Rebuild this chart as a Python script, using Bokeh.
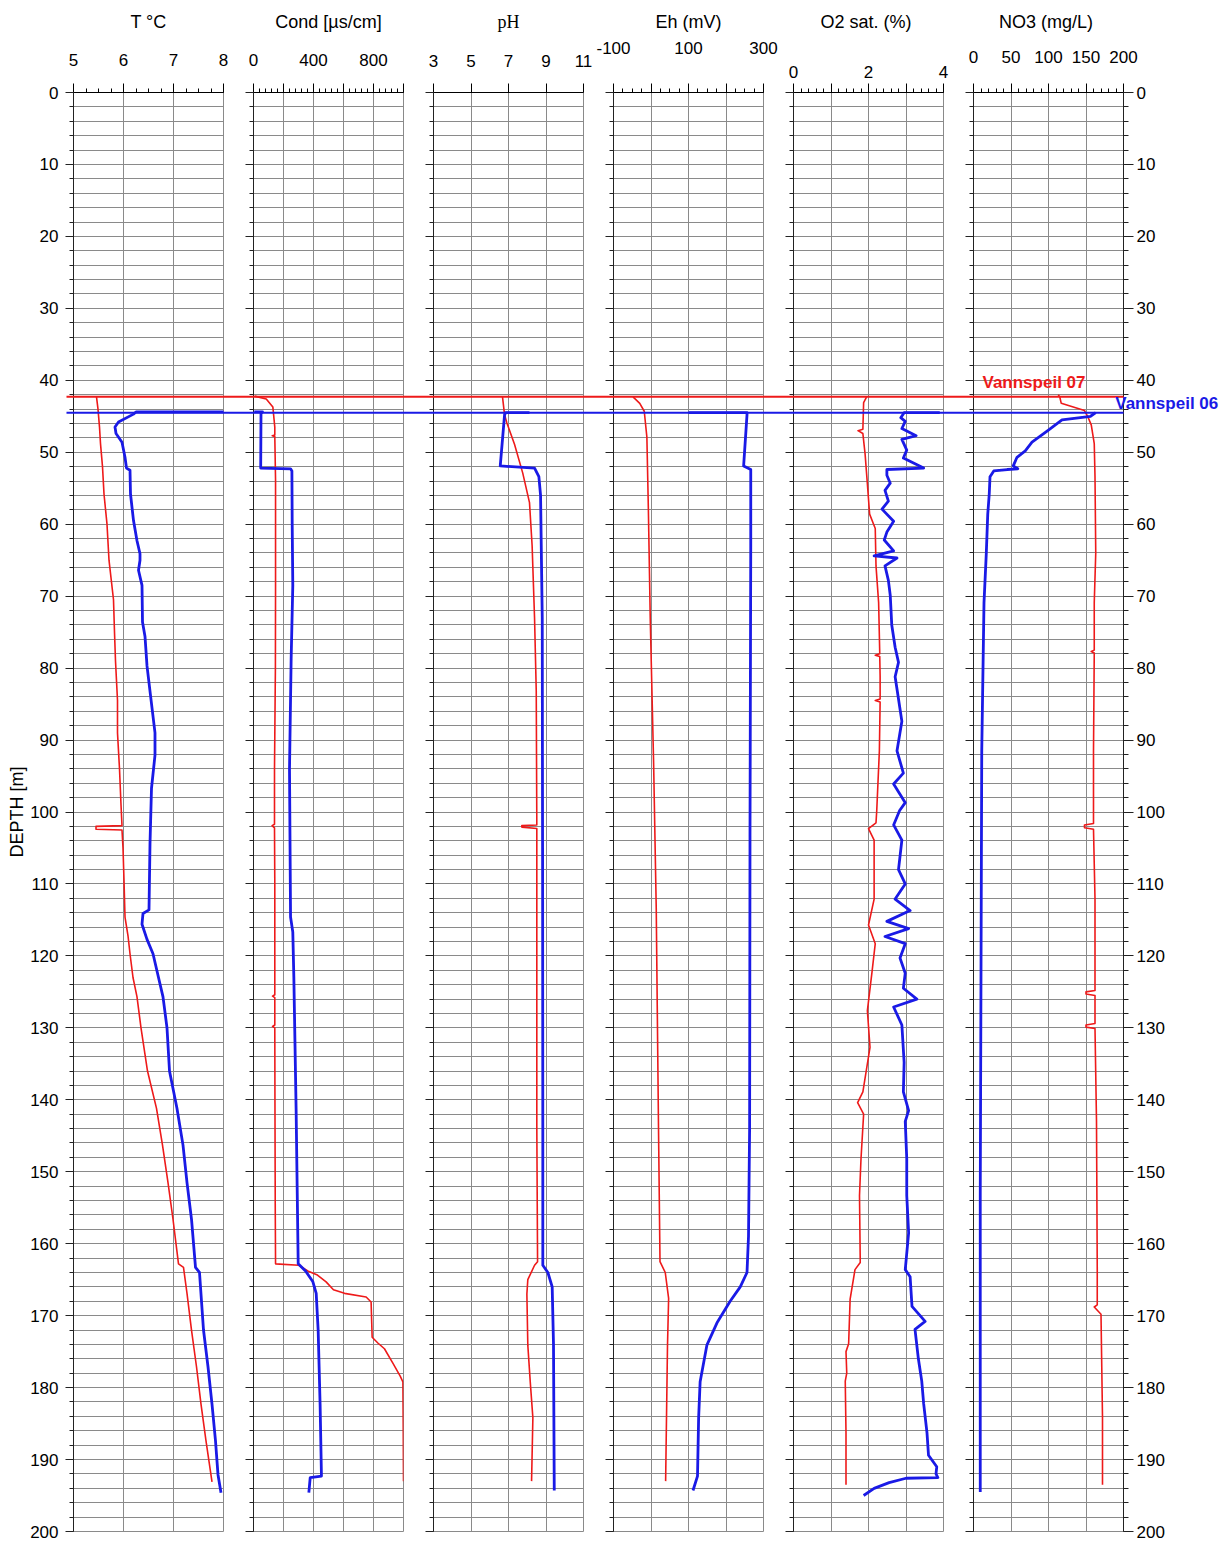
import numpy as np
from bokeh.plotting import figure
from bokeh.layouts import row
from bokeh.models import Range1d, LinearAxis, FixedTicker, SingleIntervalTicker
from bokeh.core.properties import value
from bokeh.embed import file_html
from bokeh.resources import INLINE

# ---------------- data (depth in m) ----------------
WATER_07 = 42.3   # Vannspeil 07
WATER_06 = 44.5   # Vannspeil 06

t07_depth = [42.3, 44.0, 46.5, 48.8, 52.0, 55.8, 60.0, 65.0, 70.5, 75.0, 79.0, 84.5, 89.0, 94.0, 99.0,
             101.9, 102.0, 102.4, 102.5, 105.0, 109.5, 114.6, 117.2, 119.7, 123.0, 125.7, 130.0, 136.0,
             141.2, 146.3, 151.5, 156.6, 162.8, 163.3, 166.9, 172.0, 177.1, 182.3, 187.4, 193.1]
t07 = [5.46, 5.49, 5.52, 5.54, 5.58, 5.61, 5.67, 5.71, 5.80, 5.82, 5.84, 5.88, 5.88, 5.92, 5.95,
       5.97, 5.45, 5.45, 5.97, 5.99, 6.01, 6.03, 6.09, 6.13, 6.19, 6.27, 6.35, 6.48,
       6.66, 6.78, 6.89, 6.99, 7.10, 7.20, 7.27, 7.36, 7.46, 7.55, 7.65, 7.77]
t06_depth = [44.4, 44.4, 44.7, 45.8, 46.5, 47.4, 48.6, 50.7, 52.2, 52.5, 55.8, 59.5, 62.3, 64.1, 65.0,
             66.4, 68.5, 73.6, 75.6, 79.7, 83.8, 89.0, 92.1, 96.7, 104.4, 113.6, 114.1, 115.6, 117.7,
             119.7, 123.0, 125.7, 130.0, 136.0, 141.2, 146.3, 151.5, 156.6, 163.3, 164.0, 172.0, 177.1,
             182.3, 187.4, 192.1, 194.6]
t06 = [8.15, 6.25, 6.20, 5.90, 5.83, 5.85, 5.97, 6.03, 6.06, 6.13, 6.14, 6.20, 6.27, 6.33, 6.33,
       6.30, 6.37, 6.38, 6.43, 6.47, 6.54, 6.63, 6.63, 6.56, 6.53, 6.51, 6.39, 6.37, 6.47,
       6.59, 6.70, 6.79, 6.87, 6.92, 7.07, 7.19, 7.27, 7.36, 7.44, 7.52, 7.60, 7.69,
       7.77, 7.84, 7.89, 7.95]

c07_depth = [42.2, 42.6, 43.7, 46.5, 47.6, 47.7, 47.8, 53.9, 68.5, 80.0, 94.0, 101.7, 101.9, 102.2, 110.0,
             125.4, 125.6, 125.8, 129.6, 129.8, 130.0, 140.0, 155.0, 162.8, 163.0, 163.8, 164.3, 165.3,
             166.4, 166.9, 167.4, 168.1, 173.0, 173.8, 174.6, 176.6, 178.4, 179.2, 185.0, 193.0]
c07 = [7, 85, 129, 142, 142, 125, 142, 147, 147, 146, 140, 140, 124, 140, 142,
       142, 127, 142, 142, 127, 142, 143, 145, 147, 302, 362, 422, 484,
       533, 607, 751, 784, 791, 829, 873, 929, 978, 996, 998, 1000]
c06_depth = [44.4, 44.4, 44.6, 52.2, 52.3, 52.6, 60.0, 68.5, 78.7, 94.1, 114.6, 116.7, 123.0, 141.2,
             162.8, 163.8, 165.3, 166.9, 172.0, 182.3, 192.3, 192.5, 194.6]
c06 = [5, 60, 50, 48, 247, 256, 258, 262, 251, 240, 247, 262, 269, 284,
       298, 347, 396, 418, 431, 444, 453, 378, 369]

ph07_depth = [42.3, 44.8, 45.9, 48.9, 52.9, 57.0, 63.0, 73.1, 83.2, 101.8, 101.9, 102.1, 102.3, 123.6,
              143.8, 162.5, 163.0, 165.0, 167.0, 174.1, 179.2, 184.2, 193.0]
ph07 = [6.68, 6.79, 6.91, 7.32, 7.76, 8.12, 8.26, 8.39, 8.48, 8.51, 7.71, 7.71, 8.51, 8.51,
        8.51, 8.55, 8.39, 8.03, 7.98, 8.03, 8.16, 8.30, 8.23]
ph06_depth = [44.5, 44.5, 44.8, 51.9, 52.2, 53.4, 56.0, 73.1, 110.0, 143.8, 163.0, 164.0, 166.0, 174.0, 194.3]
ph06 = [8.12, 6.85, 6.79, 6.56, 8.39, 8.62, 8.71, 8.80, 8.82, 8.83, 8.83, 9.10, 9.33, 9.40, 9.44]

eh07_depth = [42.3, 43.2, 44.3, 47.9, 58.0, 73.1, 93.3, 113.5, 133.7, 143.8, 162.5, 164.0, 167.6, 174.1, 193.0]
eh07 = [-48, -30, -18, -11, -7, -2, 7, 14, 18, 20, 24, 38, 47, 44, 39]
eh06_depth = [44.5, 44.5, 44.8, 51.9, 52.4, 63.0, 103.4, 143.8, 159.0, 164.0, 166.0, 168.0, 171.0, 174.1,
              179.2, 184.2, 192.3, 194.3]
eh06 = [100, 256, 256, 247, 266, 266, 264, 263, 260, 256, 238, 211, 176, 149, 131, 127, 124, 112]

o207_depth = [42.3, 43.1, 46.8, 47.0, 47.4, 50.3, 54.4, 58.6, 60.6, 65.8, 70.9, 78.0, 78.2, 78.4, 81.2,
              84.3, 84.5, 84.7, 91.5, 99.8, 101.5, 102.3, 103.9, 112.1, 115.7, 118.3, 122.4, 127.6,
              132.7, 138.9, 140.4, 142.0, 148.2, 153.3, 162.6, 163.6, 167.7, 173.9, 175.0, 178.0,
              179.1, 186.3, 193.5]
o207 = [1.95, 1.87, 1.85, 1.72, 1.85, 1.91, 1.97, 2.03, 2.18, 2.20, 2.27, 2.30, 2.18, 2.30, 2.31,
        2.31, 2.18, 2.31, 2.29, 2.22, 2.20, 2.00, 2.15, 2.15, 2.00, 2.18, 2.09, 1.97,
        2.04, 1.85, 1.71, 1.87, 1.80, 1.76, 1.78, 1.64, 1.51, 1.47, 1.40, 1.42,
        1.38, 1.40, 1.40]
o206_depth = [44.5, 44.5, 45.2, 45.7, 46.7, 47.7, 48.2, 49.7, 50.8, 52.2, 52.4, 53.2, 54.3, 55.3, 56.8,
              57.9, 59.6, 61.1, 62.2, 63.7, 64.4, 64.7, 65.8, 67.8, 69.9, 74.0, 77.1, 79.2, 81.2, 84.3,
              87.4, 91.5, 94.6, 96.1, 98.7, 99.8, 101.8, 103.9, 108.0, 110.0, 112.1, 113.7, 115.2,
              116.2, 117.3, 118.3, 120.3, 122.4, 124.5, 126.0, 127.1, 129.6, 134.8, 138.9, 141.5,
              143.0, 148.2, 153.3, 158.5, 163.6, 164.6, 168.7, 170.8, 171.9, 176.0, 179.1, 182.2,
              186.3, 189.4, 191.0, 192.0, 192.5, 192.6, 193.2, 194.0, 195.0]
o206 = [3.90, 2.95, 2.86, 2.98, 2.89, 3.27, 2.89, 3.02, 2.93, 3.47, 2.49, 2.49, 2.58, 2.44, 2.53,
        2.36, 2.67, 2.49, 2.42, 2.67, 2.15, 2.76, 2.44, 2.53, 2.58, 2.62, 2.71, 2.80, 2.71, 2.80,
        2.89, 2.76, 2.93, 2.67, 2.98, 2.83, 2.67, 2.89, 2.80, 2.98, 2.71, 3.11, 2.49,
        3.07, 2.44, 2.98, 2.84, 2.98, 2.93, 3.29, 2.67, 2.89, 2.95, 2.93, 3.07,
        2.98, 3.02, 3.02, 3.07, 2.98, 3.11, 3.16, 3.51, 3.24, 3.33, 3.42, 3.47,
        3.56, 3.60, 3.82, 3.80, 3.85, 3.00, 2.55, 2.15, 1.87]

no307_depth = [42.0, 42.3, 43.2, 44.2, 45.2, 46.2, 48.8, 53.4, 64.0, 70.9, 77.5, 77.7, 77.9, 91.5, 101.6,
               101.8, 102.2, 102.4, 112.1, 124.8, 125.0, 125.3, 125.5, 129.4, 129.6, 129.9, 130.1,
               143.0, 163.6, 168.5, 168.8, 169.8, 184.2, 193.5]
no307 = [113, 115, 117, 148, 153, 157, 161, 162, 163, 161, 161, 157, 161, 160, 160,
         148, 148, 160, 162, 162, 150, 150, 162, 162, 150, 150, 162,
         164, 165, 165, 161, 170, 172, 172]
no306_depth = [44.5, 45.0, 45.5, 47.0, 48.6, 49.8, 50.7, 51.9, 52.3, 52.4, 52.6, 53.4, 55.8, 58.6, 64.2,
               70.9, 91.5, 122.4, 153.3, 194.5]
no306 = [163, 156, 118, 99, 78, 69, 58, 53, 59, 45, 27, 22, 21, 19, 17, 14, 11, 10, 9, 9]

titles = ["T °C", "Cond [µs/cm]", "pH", "Eh (mV)", "O2 sat.  (%)", "NO3  (mg/L)"]
x_limits = [(5, 8), (0, 1000), (3, 11), (-100, 300), (0, 4), (0, 200)]
x_major = [[5, 6, 7, 8], [0, 200, 400, 600, 800, 1000], [3, 5, 7, 9, 11],
           [-100, 0, 100, 200, 300], [0, 1, 2, 3, 4], [0, 50, 100, 150, 200]]
x_minor_step = [0.25, 40, None, 25, 0.2, 10]
x_hidden_labels = [[], [200, 600, 1000], [], [0, 200], [1, 3], []]
series_07 = [(t07_depth, t07), (c07_depth, c07), (ph07_depth, ph07), (eh07_depth, eh07),
             (o207_depth, o207), (no307_depth, no307)]
series_06 = [(t06_depth, t06), (c06_depth, c06), (ph06_depth, ph06), (eh06_depth, eh06),
             (o206_depth, o206), (no306_depth, no306)]
depth_label = "DEPTH [m]"
water_labels = ["Vannspeil 07", "Vannspeil 06"]

# ---------------- styling / layout ----------------
RED = "#ee1a1a"
BLUE = "#1a1ae6"
GRID = "#8a8a8a"
FONT = "Liberation Sans"
SERIF = "Liberation Serif"
FRAME_W, FRAME_H, TOP, BOTTOM = 150, 1439, 92, 11
border_left = [73, 18, 20, 20, 13, 18]
border_right = [12, 10, 10, 17, 12, 103]
label_standoff = [18, 18, 17, 30, 6, 21]
title_standoff = [19, 19, 20, 7, 31, 16]

figs = []
for i in range(6):
    lo, hi = x_limits[i]
    L, R = border_left[i], border_right[i]
    p = figure(width=L + FRAME_W + R, height=TOP + FRAME_H + BOTTOM,
               x_range=Range1d(lo, hi), y_range=Range1d(200, 0),
               x_axis_location="above", y_axis_location="left",
               output_backend="svg", toolbar_location=None,
               min_border_left=L, min_border_right=R, min_border_top=TOP, min_border_bottom=BOTTOM,
               outline_line_color=GRID, outline_line_width=1,
               background_fill_color="white", border_fill_color="white")

    # top axis
    xa = p.xaxis[0]
    step = x_minor_step[i]
    minor = [] if step is None else [float(v) for v in np.arange(lo, hi + step / 2, step)]
    xa.ticker = FixedTicker(ticks=x_major[i], minor_ticks=minor)
    ov = {}
    for v in x_major[i]:
        if v in x_hidden_labels[i]:
            ov[float(v)] = ""
        elif v < 0:
            ov[float(v)] = str(v)
    xa.major_label_overrides = ov
    xa.major_tick_out, xa.major_tick_in = 9, 0
    xa.minor_tick_out, xa.minor_tick_in = 4, 0
    xa.axis_line_color = "black"
    xa.major_tick_line_color = "black"
    xa.minor_tick_line_color = "black"
    xa.major_label_text_font = FONT
    xa.major_label_text_font_size = "17px"
    xa.major_label_text_color = "black"
    xa.major_label_standoff = label_standoff[i]
    xa.axis_label = titles[i]
    xa.axis_label_text_font = SERIF if i == 2 else FONT
    xa.axis_label_text_font_size = "18px"
    xa.axis_label_text_font_style = "normal"
    xa.axis_label_text_color = "black"
    xa.axis_label_standoff = title_standoff[i]

    # left depth axis
    ya = p.yaxis[0]
    ya.ticker = SingleIntervalTicker(interval=10, num_minor_ticks=5)
    ya.major_tick_out, ya.major_tick_in = 8, 0
    ya.minor_tick_out, ya.minor_tick_in = 4, 0
    ya.axis_line_color = "#222222"
    ya.major_tick_line_color = "#222222"
    ya.minor_tick_line_color = "#222222"
    if i == 0:
        ya.major_label_text_font = FONT
        ya.major_label_text_font_size = "17px"
        ya.major_label_text_color = "black"
        ya.major_label_standoff = 7
        ya.axis_label = depth_label
        ya.axis_label_text_font = FONT
        ya.axis_label_text_font_size = "18px"
        ya.axis_label_text_font_style = "normal"
        ya.axis_label_text_color = "black"
        ya.axis_label_standoff = 0
    else:
        ya.major_label_text_color = None
        ya.major_label_standoff = 0

    if i == 5:
        ra = LinearAxis(ticker=SingleIntervalTicker(interval=10, num_minor_ticks=5),
                        major_tick_out=10, major_tick_in=0, minor_tick_out=5, minor_tick_in=0,
                        axis_line_color="#222222", major_tick_line_color="#222222",
                        minor_tick_line_color="#222222",
                        major_label_text_font=FONT, major_label_text_font_size="17px",
                        major_label_text_color="black", major_label_standoff=3)
        p.add_layout(ra, "right")

    # grid
    p.xgrid.ticker = FixedTicker(ticks=x_major[i])
    p.ygrid.ticker = SingleIntervalTicker(interval=2)
    p.grid.grid_line_color = GRID
    p.grid.grid_line_width = 1

    # water level lines spanning the canvas (incl. gaps between panels)
    k = (hi - lo) / FRAME_W
    x0 = lo - (7 if i == 0 else L + 1) * k
    x1 = hi if i == 5 else hi + (R + 1) * k
    p.segment(x0=[x0], y0=[WATER_07], x1=[x1], y1=[WATER_07], line_color=RED, line_width=2, level="overlay")
    p.segment(x0=[x0], y0=[WATER_06], x1=[x1], y1=[WATER_06], line_color=BLUE, line_width=2, level="overlay")

    # profiles
    d7, v7 = series_07[i]
    d6, v6 = series_06[i]
    p.line(x=v7, y=d7, line_color=RED, line_width=1.6, line_join="round")
    p.line(x=v6, y=d6, line_color=BLUE, line_width=2.8, line_join="round")

    if i == 5:
        p.text(x=[12], y=[40.3], text=[water_labels[0]], text_color=RED,
               text_font=value(FONT), text_font_style="bold", text_font_size="17px",
               text_baseline="middle", text_align="left", level="overlay")
        p.text(x=[189], y=[43.2], text=[water_labels[1]], text_color=BLUE,
               text_font=value(FONT), text_font_style="bold", text_font_size="17px",
               text_baseline="middle", text_align="left", level="overlay")
    figs.append(p)

layout = row(*figs)
open("out.html", "w").write(file_html(layout, INLINE))
